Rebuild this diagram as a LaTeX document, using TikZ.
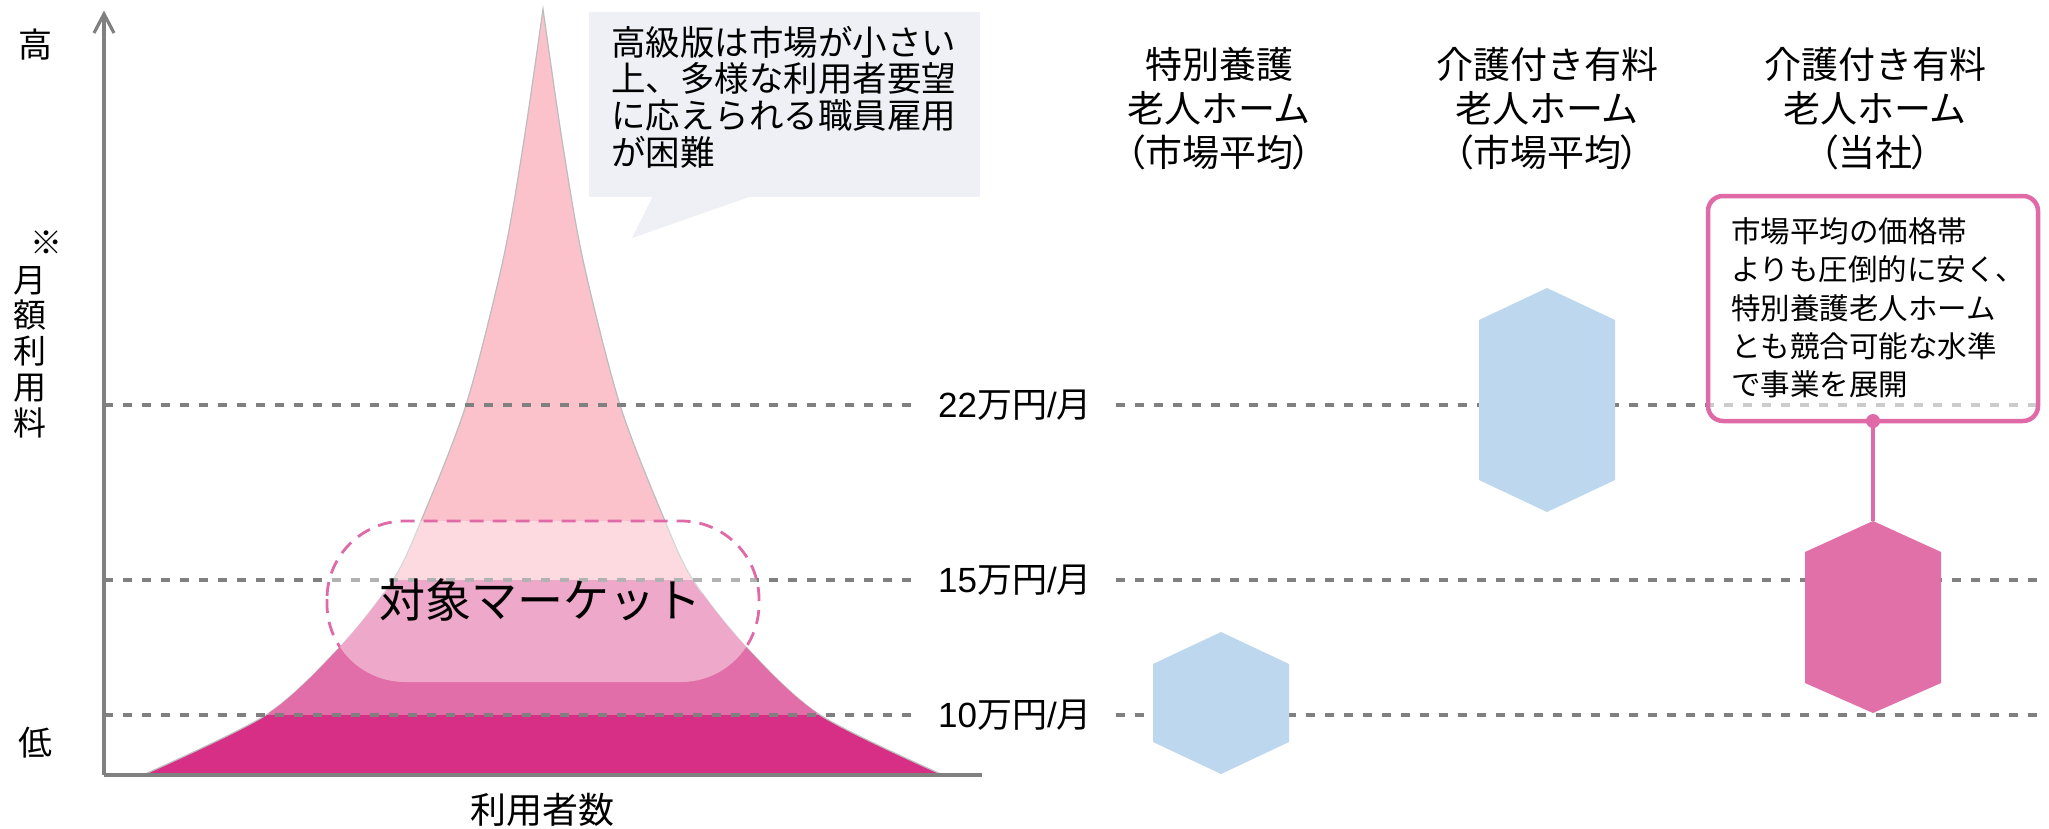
\documentclass[tikz,border=0pt]{standalone}
\usepackage{fontspec}
\setmainfont{Liberation Sans}
\newfontfamily\jp{Noto Sans CJK JP}
\usetikzlibrary{arrows.meta}
\definecolor{gline}{HTML}{808080}
\definecolor{mtop}{HTML}{FCC2CB}
\definecolor{mmid}{HTML}{E16EA8}
\definecolor{mbot}{HTML}{D62F85}
\definecolor{hexblue}{HTML}{BDD7EE}
\definecolor{hexpink}{HTML}{E270A8}
\definecolor{bubblebg}{HTML}{EFF0F6}
\definecolor{callpink}{HTML}{E06AA8}
\definecolor{medge}{HTML}{BDBDBD}
\newcommand\mountainpath{(143,775) plot[smooth] coordinates {(143,775) (266,715) (340,647) (393,580) (421,521) (466,405) (503,260) (524,140) (543,9)} -- plot[smooth] coordinates {(543,9) (562,140) (583,260) (620,405) (665,521) (693,580) (746,647) (820,715) (943,775)} -- cycle}
\newcommand\marketrect{(327,521) rectangle (759,682)}
\begin{document}
\begin{tikzpicture}[x=1pt,y=-1pt,
  guide/.style={draw=gline, line width=3.2pt, dash pattern=on 9pt off 10pt},
  axisline/.style={draw=gline, line width=3.2pt},
  lbl/.style={inner sep=0pt, outer sep=0pt, text=black},
  pricelbl/.style={inner xsep=24pt, inner ysep=0pt, outer sep=0pt, font=\fontsize{35}{40}\selectfont},
  headlbl/.style={lbl, align=center, font=\jp\fontsize{37}{44}\selectfont},
  hexb/.style={fill=hexblue},
  hexp/.style={fill=hexpink},
]
\useasboundingbox (0,0) rectangle (2049,828);
\fill[white] (0,0) rectangle (2049,828);

% mountain bands
\begin{scope}
  \clip \mountainpath;
  \fill[mtop] (100,0) rectangle (1000,580);
  \fill[mmid] (100,580) rectangle (1000,715);
  \fill[mbot] (100,715) rectangle (1000,780);
\end{scope}
\draw[medge, line width=1.2pt] \mountainpath;

% guide lines and price labels
\node[pricelbl] (p22) at (1015,405) {22{\jp 万円}/{\jp 月}};
\node[pricelbl] (p15) at (1015,580) {15{\jp 万円}/{\jp 月}};
\node[pricelbl] (p10) at (1015,715) {10{\jp 万円}/{\jp 月}};
\coordinate (a22) at (104,405); \coordinate (e22) at (2038,405);
\coordinate (a15) at (104,580); \coordinate (e15) at (2038,580);
\coordinate (a10) at (104,715); \coordinate (e10) at (2038,715);
\draw[guide] (a22) -- (p22.west);
\draw[guide] (p22.east) -- (e22);
\draw[guide] (a15) -- (p15.west);
\draw[guide] (p15.east) -- (e15);
\draw[guide] (a10) -- (p10.west);
\draw[guide] (p10.east) -- (e10);

% target market highlight
\fill[white, opacity=0.4, rounded corners=78pt] \marketrect;
\draw[callpink, line width=2.8pt, dash pattern=on 14pt off 9pt, rounded corners=78pt] \marketrect;
\begin{scope}
  \clip \mountainpath;
  \clip (100,593) rectangle (1000,712);
  \fill[mmid] (100,580) rectangle (1000,715);
  \fill[white, opacity=0.4, rounded corners=78pt] \marketrect;
\end{scope}
\node[lbl, font=\jp\fontsize{46}{50}\selectfont] (mkt) at (540,600) {対象マーケット};

% axes
\draw[axisline] (104,775) -- (104,15);
\draw[axisline, line join=miter] (94,33) -- (104,14) -- (114,33);
\draw[draw=gline, line width=3.6pt] (104,775) -- (982,775);

% axis labels
\node[lbl, font=\jp\fontsize{34}{36}\selectfont] (hi) at (35,45) {高};
\node[lbl, font=\jp\fontsize{32}{36}\selectfont] (note) at (46,243) {※};
\node[lbl, align=center, font=\jp\fontsize{33}{35.8}\selectfont] (ylab) at (30,352) {月\\額\\利\\用\\料};
\node[lbl, font=\jp\fontsize{34}{36}\selectfont] (lo) at (35,743) {低};
\node[lbl, font=\jp\fontsize{36}{40}\selectfont] (xlab) at (542,810) {利用者数};

% speech bubble
\fill[bubblebg] (589,12) rectangle (980,197);
\fill[bubblebg] (653,196) -- (752,196) -- (632,238) -- cycle;
\node[lbl, anchor=west, align=left, font=\jp\fontsize{34.5}{36.7}\selectfont] (bub) at (611,97)
  {高級版は市場が小さい\\上、多様な利用者要望\\に応えられる職員雇用\\が困難};

% column headers
\node[headlbl] (h1) at (1219,109) {特別養護\\老人ホーム\\{\addfontfeature{RawFeature=+palt}（市場平均）}};
\node[headlbl] (h2) at (1547,109) {介護付き有料\\老人ホーム\\{\addfontfeature{RawFeature=+palt}（市場平均）}};
\node[headlbl] (h3) at (1875,109) {介護付き有料\\老人ホーム\\{\addfontfeature{RawFeature=+palt}（当社）}};

% hexagons
\fill[hexb] (1153,664) -- (1221,632) -- (1289,664) -- (1289,742) -- (1221,774) -- (1153,742) -- cycle;
\fill[hexb] (1479,320) -- (1547,288) -- (1615,320) -- (1615,480) -- (1547,512) -- (1479,480) -- cycle;
\fill[hexp] (1805,552) -- (1873,521) -- (1941,552) -- (1941,683) -- (1873,713) -- (1805,683) -- cycle;
\coordinate (hex3top) at (1873,521);

% callout
\node[draw=callpink, line width=4.5pt, rounded corners=15pt, fill=white, fill opacity=0.6, text opacity=1,
      minimum width=330pt, minimum height=225pt, inner sep=0pt, outer sep=0pt] (callout) at (1873,308.5) {};
\node[lbl, anchor=west, align=left, font=\jp\fontsize{29.5}{38.3}\selectfont] (calltext) at (1731,308)
  {市場平均の価格帯\\よりも圧倒的に安く、\\特別養護老人ホーム\\とも競合可能な水準\\で事業を展開};
\draw[callpink, line width=4pt] (callout.south) -- (hex3top);
\fill[callpink] (callout.south) circle (7pt);
\end{tikzpicture}
\end{document}
